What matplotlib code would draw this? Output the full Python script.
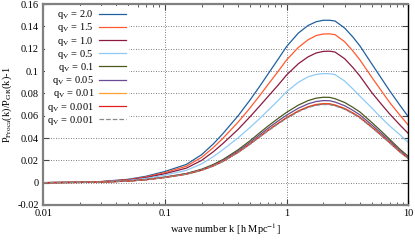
import matplotlib
matplotlib.use("Agg")
import matplotlib.pyplot as plt
from matplotlib.ticker import FuncFormatter, LogLocator, MultipleLocator

plt.rcParams['font.family'] = ['Liberation Serif', 'DejaVu Serif']
plt.rcParams['mathtext.fontset'] = 'stix'

# wave numbers [h/Mpc]
k = [0.01, 0.02, 0.03, 0.05, 0.07, 0.1, 0.15, 0.2, 0.25, 0.3, 0.4, 0.5, 0.6, 0.7, 0.85,
     1.0, 1.25, 1.5, 1.75, 2.0, 2.25, 2.5, 3.0, 3.5, 4.0, 5.0, 6.0, 7.0, 8.5, 10.0]

# P_Proca/P_GR - 1
q_2p0 = [0.0000, 0.0004, 0.0010, 0.0030, 0.0057, 0.0100, 0.0163, 0.0250, 0.0347, 0.0440,
         0.0600, 0.0740, 0.0862, 0.0970, 0.1105, 0.1220, 0.1341, 0.1408, 0.1442, 0.1455,
         0.1455, 0.1448, 0.1385, 0.1305, 0.1225, 0.1065, 0.0935, 0.0825, 0.0695, 0.0590]
q_1p5 = [0.0000, 0.0004, 0.0009, 0.0027, 0.0051, 0.0090, 0.0147, 0.0226, 0.0314, 0.0398,
         0.0543, 0.0669, 0.0779, 0.0876, 0.0996, 0.1100, 0.1212, 0.1280, 0.1318, 0.1332,
         0.1333, 0.1326, 0.1262, 0.1180, 0.1100, 0.0945, 0.0823, 0.0720, 0.0606, 0.0515]
q_1p0 = [0.0000, 0.0003, 0.0008, 0.0024, 0.0045, 0.0080, 0.0130, 0.0199, 0.0277, 0.0351,
         0.0478, 0.0590, 0.0686, 0.0769, 0.0873, 0.0965, 0.1066, 0.1127, 0.1162, 0.1176,
         0.1178, 0.1170, 0.1110, 0.1032, 0.0955, 0.0808, 0.0703, 0.0617, 0.0518, 0.0440]
q_0p5 = [0.0000, 0.0003, 0.0007, 0.0020, 0.0038, 0.0067, 0.0110, 0.0168, 0.0233, 0.0296,
         0.0402, 0.0495, 0.0574, 0.0645, 0.0735, 0.0815, 0.0900, 0.0948, 0.0970, 0.0977,
         0.0976, 0.0968, 0.0910, 0.0840, 0.0775, 0.0670, 0.0580, 0.0510, 0.0430, 0.0360]
q_0p1 = [0.0000, 0.0002, 0.0005, 0.0015, 0.0028, 0.0050, 0.0082, 0.0120, 0.0163, 0.0207,
         0.0295, 0.0375, 0.0446, 0.0505, 0.0575, 0.0630, 0.0695, 0.0735, 0.0757, 0.0765,
         0.0764, 0.0752, 0.0718, 0.0675, 0.0633, 0.0540, 0.0460, 0.0390, 0.0300, 0.0235]
q_0p05 = [0.0000, 0.0002, 0.0005, 0.0014, 0.0027, 0.0048, 0.0079, 0.0115, 0.0156, 0.0199,
          0.0283, 0.0360, 0.0428, 0.0485, 0.0552, 0.0605, 0.0667, 0.0706, 0.0727, 0.0735,
          0.0734, 0.0722, 0.0689, 0.0648, 0.0607, 0.0518, 0.0441, 0.0374, 0.0288, 0.0225]
q_0p01 = [0.0000, 0.0002, 0.0005, 0.0014, 0.0026, 0.0046, 0.0076, 0.0111, 0.0151, 0.0192,
          0.0273, 0.0348, 0.0413, 0.0468, 0.0533, 0.0584, 0.0644, 0.0681, 0.0702, 0.0709,
          0.0708, 0.0697, 0.0666, 0.0626, 0.0587, 0.0500, 0.0426, 0.0361, 0.0278, 0.0218]
q_0p001 = [0.0000, 0.0002, 0.0005, 0.0014, 0.0026, 0.0046, 0.0076, 0.0111, 0.0150, 0.0191,
           0.0272, 0.0346, 0.0411, 0.0466, 0.0530, 0.0581, 0.0641, 0.0678, 0.0698, 0.0705,
           0.0704, 0.0693, 0.0662, 0.0622, 0.0584, 0.0498, 0.0424, 0.0360, 0.0277, 0.0217]
q_0p001b = [0.0000, 0.0002, 0.0005, 0.0014, 0.0026, 0.0046, 0.0075, 0.0110, 0.0149, 0.0189,
            0.0270, 0.0343, 0.0408, 0.0462, 0.0526, 0.0576, 0.0636, 0.0673, 0.0693, 0.0700,
            0.0699, 0.0688, 0.0657, 0.0618, 0.0579, 0.0494, 0.0421, 0.0357, 0.0275, 0.0215]

series = [q_2p0, q_1p5, q_1p0, q_0p5, q_0p1, q_0p05, q_0p01, q_0p001, q_0p001b]
labels = ['2.0', '1.5', '1.0', '0.5', '0.1', '0.05', '0.01', '0.001', '0.001']
colors = ['#2060a0', '#ff5a30', '#8c1a40', '#8fcaf5', '#4a5a1e',
          '#6a4a94', '#ffa030', '#e02020', '#8a8a8a']
styles = ['-'] * 8 + ['--']

fig = plt.figure(figsize=(4.15, 2.4), dpi=100)
ax = fig.add_axes([0.104, 0.146, 0.880, 0.837])

for y, lab, c, ls in zip(series, labels, colors, styles):
    ax.plot(k, y, color=c, ls=ls, lw=0.9, label=r'q$_\mathrm{V}$ = ' + lab)

ax.set_xscale('log')
ax.set_xlim(0.01, 10)
ax.set_ylim(-0.02, 0.16)
ax.yaxis.set_major_locator(MultipleLocator(0.02))
ax.xaxis.set_major_locator(LogLocator(base=10, numticks=10))
fmt = FuncFormatter(lambda v, p: '%g' % round(v, 6))
ax.xaxis.set_major_formatter(fmt)
ax.yaxis.set_major_formatter(fmt)

ax.grid(True, which='major', ls=(0, (1, 2)), color='#555555', lw=0.6)
ax.tick_params(which='both', direction='in', top=True, right=True,
               labelsize=7.5, color='#444444', pad=3)
ax.tick_params(which='major', length=4)
ax.tick_params(which='minor', length=2.5)
for side in ['left', 'bottom', 'top']:
    ax.spines[side].set_color('#808080')
    ax.spines[side].set_linewidth(1.6)
ax.spines['right'].set_color('black')
ax.spines['right'].set_linewidth(1.0)

ax.set_xlabel(r'wave number k [h Mpc$^{-1}$]', fontsize=7.5, labelpad=2)
ax.set_ylabel(r'P$_\mathrm{Proca}$(k)/P$_\mathrm{GR}$(k)-1', fontsize=7.5)
ax.yaxis.set_label_coords(-0.08, 0.5)

leg = ax.legend(loc='upper left', markerfirst=False, fontsize=7.5, frameon=True,
                fancybox=False, framealpha=1, edgecolor='none', facecolor='white',
                handlelength=2.6, handletextpad=0.5, labelspacing=0.02,
                borderpad=0.2, borderaxespad=0.2)
leg.get_frame().set_linewidth(0)

fig.savefig('out.png', dpi=100)
